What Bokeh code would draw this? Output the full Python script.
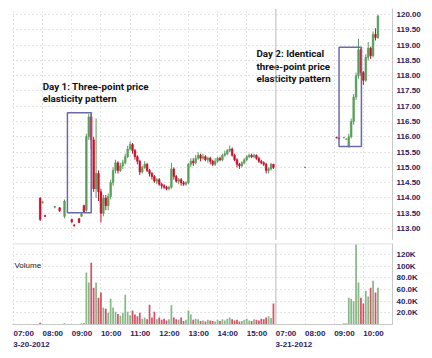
from bokeh.plotting import figure
from bokeh.layouts import column
from bokeh.models import (ColumnDataSource, FixedTicker, Range1d, LinearAxis, Span,
                          NumeralTickFormatter)
from bokeh.core.properties import value
from bokeh.embed import file_html
from bokeh.resources import INLINE

# ---------------- data ----------------
# bar time = minutes after 07:00 on 3-20-2012 (3-21-2012 07:00 = 540), 5-minute bars
bar_time = [55, 60, 65, 85, 95, 105, 120, 125, 135, 140, 145,
            150, 155, 160, 165, 170, 175, 180, 185, 190, 195,
            200, 205, 210, 215, 220, 225, 230, 235, 240, 245,
            250, 255, 260, 265, 270, 275, 280, 285, 290, 295,
            300, 305, 310, 315, 320, 325, 330, 335, 340, 345,
            350, 355, 360, 365, 370, 375, 380, 385, 390, 395,
            400, 405, 410, 415, 420, 425, 430, 435, 440, 445,
            450, 455, 460, 465, 470, 475, 480, 485, 490, 495,
            500, 505, 510, 515, 520, 525, 530, 535,
            600, 665, 670, 680, 685,
            690, 695, 700, 705, 710, 715, 720, 725, 730, 735, 740, 745, 750]

bar_open = [114.00, 113.85, 113.42, 113.70, 113.68, 113.40, 113.30, 113.12, 113.32, 113.40, 113.75,
            113.60, 116.00, 116.65, 115.90, 114.30, 114.80, 114.20, 113.50, 114.00, 113.75,
            114.05, 114.50, 114.90, 115.15, 114.90, 115.05, 115.15, 115.35, 115.60, 115.75,
            115.55, 115.35, 115.20, 114.85, 115.00, 115.10, 114.90, 114.80, 114.70, 114.55,
            114.60, 114.45, 114.40, 114.35, 114.30, 114.35, 114.95, 114.70, 114.55, 114.60,
            114.50, 114.45, 114.50, 115.10, 115.20, 115.15, 115.30, 115.40, 115.30, 115.35,
            115.25, 115.30, 115.20, 115.10, 115.20, 115.30, 115.25, 115.40, 115.45, 115.55,
            115.60, 115.40, 115.25, 115.10, 115.05, 115.15, 115.25, 115.35, 115.40, 115.35,
            115.40, 115.30, 115.20, 115.15, 115.10, 114.90, 114.95, 115.10,
            115.00, 115.98, 115.95, 115.97, 115.92,
            115.70, 116.00, 116.50, 117.30, 118.00, 118.85, 118.10, 117.85, 118.60, 118.90, 118.65, 119.35, 119.25]

bar_high = [114.02, 113.90, 113.45, 113.74, 113.70, 113.95, 113.32, 113.14, 113.35, 113.52, 113.78,
            116.10, 116.75, 116.80, 116.00, 116.60, 114.90, 114.30, 114.10, 114.10, 114.15,
            114.60, 115.00, 115.25, 115.20, 115.15, 115.25, 115.45, 115.70, 115.85, 115.80,
            115.60, 115.40, 115.25, 115.05, 115.20, 115.15, 114.95, 114.85, 114.75, 114.65,
            114.65, 114.50, 114.45, 114.40, 114.40, 115.15, 115.00, 114.75, 114.65, 114.65,
            114.55, 114.55, 115.15, 115.30, 115.30, 115.40, 115.50, 115.45, 115.45, 115.40,
            115.35, 115.35, 115.25, 115.30, 115.35, 115.35, 115.45, 115.55, 115.60, 115.72,
            115.65, 115.45, 115.30, 115.15, 115.20, 115.30, 115.40, 115.45, 115.45, 115.45,
            115.42, 115.35, 115.25, 115.20, 115.15, 115.00, 115.15, 115.12,
            115.02, 116.00, 115.97, 116.00, 115.95,
            116.10, 116.60, 117.40, 118.10, 119.20, 118.90, 118.15, 118.70, 119.10, 118.95, 119.45, 119.55, 120.00]

bar_low = [113.25, 113.82, 113.38, 113.66, 113.55, 113.33, 113.18, 113.06, 113.18, 113.38, 113.52,
           113.55, 115.90, 115.60, 114.20, 114.00, 113.90, 113.20, 113.40, 113.60, 113.60,
           113.95, 114.40, 114.80, 114.80, 114.85, 114.95, 115.10, 115.30, 115.55, 115.45,
           115.25, 115.10, 114.75, 114.80, 114.95, 114.85, 114.70, 114.60, 114.50, 114.45,
           114.40, 114.30, 114.30, 114.25, 114.25, 114.30, 114.60, 114.50, 114.45, 114.40,
           114.40, 114.40, 114.45, 115.00, 115.05, 115.10, 115.25, 115.20, 115.25, 115.20,
           115.15, 115.10, 115.05, 115.05, 115.15, 115.20, 115.20, 115.35, 115.40, 115.50,
           115.35, 115.20, 115.00, 114.95, 115.00, 115.10, 115.20, 115.30, 115.30, 115.30,
           115.25, 115.15, 115.10, 115.05, 114.80, 114.80, 114.90, 114.95,
           114.98, 115.95, 115.92, 115.95, 115.90,
           115.65, 115.95, 116.40, 117.20, 117.90, 118.00, 117.70, 117.80, 118.50, 118.55, 118.60, 119.15, 119.20]

bar_close = [113.30, 113.87, 113.40, 113.72, 113.58, 113.90, 113.22, 113.10, 113.20, 113.48, 113.55,
             116.00, 116.65, 115.90, 114.30, 114.80, 114.20, 113.50, 114.00, 113.75, 114.05,
             114.50, 114.90, 115.15, 114.90, 115.05, 115.15, 115.35, 115.60, 115.75, 115.55,
             115.35, 115.20, 114.85, 115.00, 115.10, 114.90, 114.80, 114.70, 114.55, 114.60,
             114.45, 114.40, 114.35, 114.30, 114.35, 114.95, 114.70, 114.55, 114.60, 114.50,
             114.45, 114.50, 115.10, 115.20, 115.15, 115.30, 115.40, 115.30, 115.35, 115.25,
             115.30, 115.20, 115.10, 115.20, 115.30, 115.25, 115.40, 115.45, 115.55, 115.60,
             115.40, 115.25, 115.10, 115.05, 115.15, 115.25, 115.35, 115.40, 115.35, 115.40,
             115.30, 115.20, 115.15, 115.10, 114.90, 114.95, 115.10, 115.00,
             115.01, 115.96, 115.94, 115.98, 115.93,
             116.00, 116.50, 117.30, 118.00, 118.85, 118.10, 117.85, 118.60, 118.90, 118.65, 119.35, 119.25, 119.95]

bar_volume_k = [3, 1, 1, 1, 1, 2, 1, 1, 1, 2, 2,
                89, 72, 106, 63, 72, 46, 55, 29, 27, 20,
                44, 29, 22, 18, 15, 20, 51, 22, 16, 24,
                17, 14, 20, 10, 12, 9, 34, 12, 22, 9,
                12, 8, 10, 7, 9, 33, 12, 9, 8, 12,
                6, 8, 24, 17, 8, 10, 9, 6, 7, 5,
                8, 7, 6, 5, 8, 6, 9, 7, 10, 12,
                9, 7, 8, 5, 6, 8, 10, 7, 6, 9,
                8, 7, 10, 9, 12, 14, 11, 36,
                1, 1, 1, 2, 2,
                46, 44, 40, 137, 72, 46, 36, 58, 48, 63, 75, 55, 63]

hour_ticks = [0, 60, 120, 180, 240, 300, 360, 420, 480, 540, 600, 660, 720]
hour_labels = ["07:00", "08:00", "09:00", "10:00", "11:00", "12:00", "13:00", "14:00", "15:00",
               "07:00", "08:00", "09:00", "10:00"]
date_ticks = [0, 540]
date_labels = ["3-20-2012", "3-21-2012"]
price_ticks = [113.0, 113.5, 114.0, 114.5, 115.0, 115.5, 116.0, 116.5, 117.0, 117.5,
               118.0, 118.5, 119.0, 119.5, 120.0]
vol_ticks = [20, 40, 60, 80, 100, 120]
vol_labels = ["20.0K", "40.0K", "60.0K", "80.0K", "100K", "120K"]

# pattern boxes
box_left = [111, 670]
box_right = [160, 716]
box_top = [116.79, 118.93]
box_bottom = [113.52, 115.68]

note_text = ["Day 1: Three-point price", "elasticity pattern",
             "Day 2: Identical", "three-point price", "elasticity pattern"]
note_x = [60, 60, 500, 500, 500]
note_y = [117.64, 117.24, 118.72, 118.31, 117.90]

# ---------------- styling ----------------
GREEN = "#5a9e5a"
RED = "#c8102e"
LABEL = "#2e2260"
GRID = "#c8c8c8"
FONT = "Liberation Sans"

colors = [GREEN if c >= o else RED for o, c in zip(bar_open, bar_close)]
src = ColumnDataSource(dict(
    t=bar_time, high=bar_high, low=bar_low,
    top=[max(o, c) for o, c in zip(bar_open, bar_close)],
    bottom=[min(o, c) for o, c in zip(bar_open, bar_close)],
    color=colors, vol=bar_volume_k))

xr = Range1d(-2, 780)

p1 = figure(frame_width=380, frame_height=232, x_range=xr, y_range=Range1d(112.61, 120.196),
            output_backend="svg", toolbar_location=None, x_axis_location=None,
            y_axis_location="right", min_border_left=12, min_border_right=0,
            min_border_top=8, min_border_bottom=0)
p1.outline_line_color = None

p1.segment(x0="t", y0="low", x1="t", y1="high", line_color="color", line_width=1, source=src)
p1.vbar(x="t", width=3.4, top="top", bottom="bottom", fill_color="color",
        line_color="color", line_width=0.6, source=src)

p1.quad(left=box_left, right=box_right, top=box_top, bottom=box_bottom,
        fill_color=None, line_color="#6b6aa8", line_width=1.5)

p1.text(x=note_x, y=note_y, text=note_text, text_font=value("Roboto"),
        text_font_style="bold", text_font_size="9.8px", text_color="#111111",
        text_baseline="alphabetic", text_align="left")

grid_hours = [h for h in hour_ticks if h != 540]

p1.yaxis.ticker = FixedTicker(ticks=price_ticks)
p1.yaxis.formatter = NumeralTickFormatter(format="0.00")

p2 = figure(frame_width=380, frame_height=81, x_range=xr, y_range=Range1d(0, 138.8),
            output_backend="svg", toolbar_location=None, y_axis_location="right",
            min_border_left=12, min_border_right=0, min_border_top=3, min_border_bottom=0)
p2.outline_line_color = None

p2.vbar(x="t", width=3.6, top="vol", bottom=0, fill_color="color", line_color=None,
        fill_alpha=0.72, source=src)
p2.text(x=[2], y=[101], text=["Volume"], text_font=value(FONT), text_font_size="8px",
        text_color="#222222", text_baseline="alphabetic", text_align="left")

p2.yaxis.ticker = FixedTicker(ticks=vol_ticks)
p2.yaxis.major_label_overrides = {v: l for v, l in zip(vol_ticks, vol_labels)}

HOUR_SHIFT = 21   # labels sit to the right of their tick
DATE_SHIFT = 37
hx = p2.xaxis[0]
hx.ticker = FixedTicker(ticks=[h + HOUR_SHIFT for h in hour_ticks])
hx.major_label_overrides = {h + HOUR_SHIFT: l for h, l in zip(hour_ticks, hour_labels)}
hx.major_label_standoff = 4
hx.axis_line_color = GRID

dx = LinearAxis(ticker=FixedTicker(ticks=[d + DATE_SHIFT for d in date_ticks]),
                major_label_overrides={d + DATE_SHIFT: l for d, l in zip(date_ticks, date_labels)})
dx.major_label_standoff = 1
dx.axis_line_color = None
p2.add_layout(dx, "below")

for p in (p1, p2):
    for ax in p.axis:
        ax.major_tick_line_color = None
        ax.minor_tick_line_color = None
        ax.major_tick_out = 0
        ax.major_tick_in = 0
        ax.minor_tick_out = 0
        ax.minor_tick_in = 0
        ax.major_label_text_font = FONT
        ax.major_label_text_font_size = "8px"
        ax.major_label_text_font_style = "bold"
        ax.major_label_text_color = LABEL
    p.yaxis.axis_line_color = GRID
    p.yaxis.major_label_standoff = 4
    p.xgrid.ticker = FixedTicker(ticks=grid_hours)
    p.xgrid.grid_line_color = GRID
    p.xgrid.grid_line_dash = "1 3"
    p.ygrid.grid_line_color = GRID
    p.ygrid.grid_line_dash = "1 3"
    p.add_layout(Span(location=540, dimension="height", line_color="#b8b8b8", line_width=1))

p1.ygrid.ticker = FixedTicker(ticks=price_ticks)
p2.ygrid.ticker = FixedTicker(ticks=vol_ticks)
p2.add_layout(Span(location=138.3, dimension="width", line_color="#d0d0d0", line_width=1))

layout = column(p1, p2, spacing=0)
open("out.html", "w").write(file_html(layout, INLINE))
